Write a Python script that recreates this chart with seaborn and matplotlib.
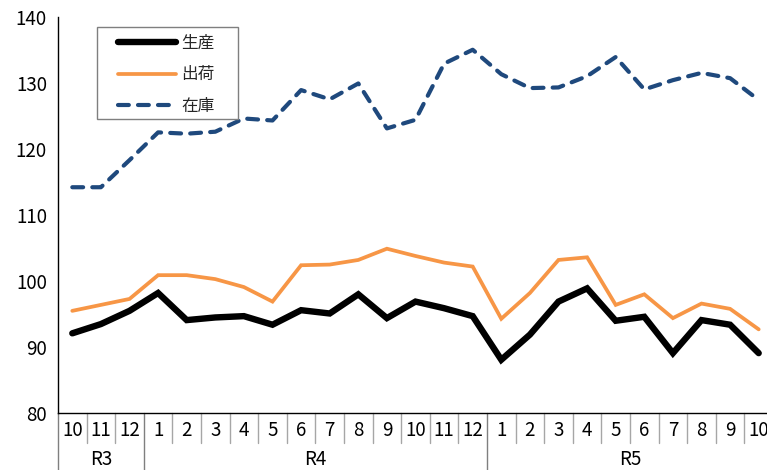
import numpy as np
import pandas as pd
import matplotlib
matplotlib.use("Agg")
import matplotlib.pyplot as plt
import matplotlib.transforms as mtransforms
from matplotlib.patches import Rectangle
import seaborn as sns

# data (index)
months = ["10", "11", "12",
          "1", "2", "3", "4", "5", "6", "7", "8", "9", "10", "11", "12",
          "1", "2", "3", "4", "5", "6", "7", "8", "9", "10"]
years = ["R3"] * 3 + ["R4"] * 12 + ["R5"] * 10

production = [92.1, 93.5, 95.5,
              98.2, 94.1, 94.5, 94.7, 93.4, 95.6, 95.1, 98.0, 94.4, 96.9, 95.9, 94.7,
              88.1, 91.9, 96.9, 98.9, 94.0, 94.6, 89.1, 94.1, 93.4, 89.1]
shipments = [95.5, 96.4, 97.3,
             100.9, 100.9, 100.3, 99.1, 96.9, 102.4, 102.5, 103.2, 104.9, 103.8, 102.8, 102.2,
             94.3, 98.2, 103.2, 103.6, 96.4, 98.0, 94.4, 96.6, 95.8, 92.7]
inventory = [114.2, 114.2, 118.3,
             122.5, 122.3, 122.6, 124.6, 124.3, 128.9, 127.5, 129.9, 123.1, 124.4, 132.9, 135.0,
             131.3, 129.2, 129.3, 131.0, 133.9, 129.0, 130.4, 131.5, 130.7, 127.4]

sns.set_style("white")
plt.rcParams['font.family'] = ['Noto Sans CJK JP', 'DejaVu Sans']

W, H = 767, 470
fig = plt.figure(figsize=(W / 100, H / 100), dpi=100)
# axes runs slightly past the right edge, as in the reference
ax_left, ax_bottom, ax_w, ax_h = 58, 56.7, 715, 396.6
ax = fig.add_axes([ax_left / W, ax_bottom / H, ax_w / W, ax_h / H])

x = np.arange(len(months))
df = pd.DataFrame({"x": x, "生産": production, "出荷": shipments, "在庫": inventory})

sns.lineplot(data=df, x="x", y="生産", ax=ax, color="black", linewidth=4.6,
             label="生産", solid_joinstyle="miter")
sns.lineplot(data=df, x="x", y="出荷", ax=ax, color="#F79646", linewidth=2.7,
             label="出荷", solid_joinstyle="miter")
sns.lineplot(data=df, x="x", y="在庫", ax=ax, color="#1F497D", linewidth=3.0,
             label="在庫")
ax.lines[2].set_dashes((2.6, 2.2))
ax.lines[2].set_dash_capstyle("round")

ax.set_xlim(-0.5, len(months) - 0.5)
ax.set_ylim(80, 140)
ax.set_yticks(np.arange(80, 141, 10))
ax.set_xticks(x)
ax.set_xticklabels(months)
ax.set_xlabel("")
ax.set_ylabel("")

for s in ["top", "right"]:
    ax.spines[s].set_visible(False)
for s in ["left", "bottom"]:
    ax.spines[s].set_color("black")
    ax.spines[s].set_linewidth(1.0)

ax.tick_params(axis="y", direction="in", length=4, width=1, color="black",
               labelsize=13.5, pad=8, labelcolor="black")
ax.tick_params(axis="x", length=0, labelsize=13.5, pad=5, labelcolor="black")
ax.grid(False)

# category separators under the axis
trans = mtransforms.blended_transform_factory(ax.transData, ax.transAxes)
bottom_fig = -ax_bottom / ax_h
short = -30 / ax_h
group_starts = [i for i in range(len(years)) if i == 0 or years[i] != years[i - 1]]
for i in range(len(months) + 1):
    xb = i - 0.5
    if i in group_starts:
        ax.plot([xb, xb], [0, bottom_fig], transform=trans, color="#7f7f7f",
                linewidth=1.0, clip_on=False)
    else:
        ax.plot([xb, xb], [0, short], transform=trans, color="#a6a6a6",
                linewidth=1.0, clip_on=False)

# year labels
for g in dict.fromkeys(years):
    idx = [i for i, y in enumerate(years) if y == g]
    ax.text(np.mean(idx), -46.5 / ax_h, g, transform=trans, ha="center",
            va="center", fontsize=13.5, color="black")

# legend without its own frame; frame drawn as a box in axes coords
leg = ax.legend(loc="upper left",
                bbox_to_anchor=((118 - ax_left) / ax_w, 1 - (35 - 16.7) / ax_h),
                frameon=False, fontsize=12, handlelength=3.5, handletextpad=0.3,
                labelspacing=0.86, borderpad=0, borderaxespad=0)
box_x0, box_y0, box_x1, box_y1 = 97, 27.3, 238, 119
ax.add_patch(Rectangle(((box_x0 - ax_left) / ax_w, 1 - (box_y1 - 16.7) / ax_h),
                       (box_x1 - box_x0) / ax_w, (box_y1 - box_y0) / ax_h,
                       transform=ax.transAxes, fill=True, facecolor="white",
                       edgecolor="#7f7f7f", linewidth=1.0, zorder=4))
leg.set_zorder(5)

fig.savefig("out.png", dpi=100)
